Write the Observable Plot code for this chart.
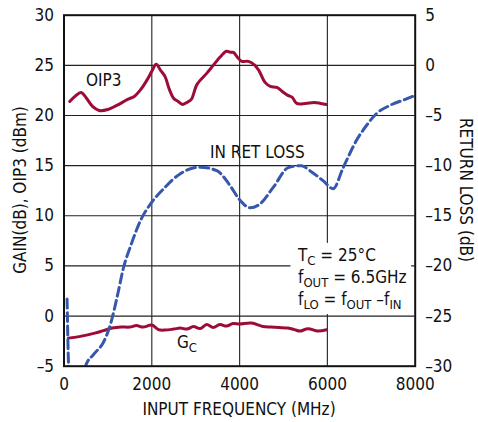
<!DOCTYPE html>
<html>
<head>
<meta charset="utf-8">
<script src="https://cdn.jsdelivr.net/npm/d3@7"></script>
<script src="https://cdn.jsdelivr.net/npm/@observablehq/plot@0.6"></script>
<style>
  html, body { margin: 0; padding: 0; background: #fff; }
</style>
</head>
<body>
<div id="chart"></div>
<script>
// ---- data ----
const xTicks = [0, 2000, 4000, 6000, 8000];
const leftTicks = [-5, 0, 5, 10, 15, 20, 25, 30];
const rightTicks = [-30, -25, -20, -15, -10, -5, 0, 5];

// OIP3 (dBm) vs input frequency (MHz)
const oip3Freq = [130, 250, 390, 500, 650, 800, 1000, 1200, 1450, 1600, 1750, 1900, 2000, 2100, 2200, 2300, 2400, 2500, 2600, 2700, 2800, 2900, 3030, 3250, 3400, 3550, 3700, 3800, 3860, 3950, 4050, 4200, 4350, 4450, 4580, 4700, 4850, 5000, 5100, 5200, 5300, 5500, 5700, 5850, 5980];
const oip3Val  = [21.4, 21.9, 22.3, 21.8, 20.9, 20.5, 20.6, 21.0, 21.6, 21.9, 22.6, 23.6, 24.4, 25.1, 24.5, 23.9, 22.6, 21.7, 21.4, 21.1, 21.3, 21.6, 23.1, 24.2, 25.0, 25.8, 26.4, 26.3, 26.3, 25.8, 25.4, 25.4, 25.0, 24.4, 23.3, 22.9, 22.8, 22.3, 22.0, 21.8, 21.2, 21.2, 21.3, 21.2, 21.1];

// Conversion gain Gc (dB)
const gcFreq = [100, 400, 700, 900, 1100, 1300, 1500, 1650, 1800, 2000, 2150, 2300, 2500, 2650, 2800, 2950, 3100, 3250, 3400, 3550, 3700, 3850, 4000, 4270, 4530, 4720, 4900, 5100, 5250, 5370, 5560, 5780, 5980];
const gcVal  = [-2.2, -2.0, -1.7, -1.45, -1.2, -1.1, -1.1, -0.95, -1.1, -0.9, -1.35, -1.4, -1.3, -1.2, -1.3, -1.05, -1.25, -0.85, -1.15, -0.85, -1.0, -0.75, -0.8, -0.7, -1.05, -1.1, -1.15, -1.2, -1.35, -1.5, -1.27, -1.5, -1.37];

// Input return loss (dB, right axis)
const rlFreq = [70, 110, 200, 350, 489, 680, 900, 1060, 1210, 1360, 1510, 1740, 2000, 2270, 2650, 3100, 3480, 3785, 4000, 4240, 4470, 4770, 5110, 5410, 5600, 5900, 6130, 6360, 6660, 6890, 7120, 7420, 7800, 8000];
const rlVal  = [-23.3, -30.5, -34, -33, -30, -28.8, -27.6, -25.8, -23.1, -20.1, -18.1, -15.5, -13.65, -12.3, -10.8, -10.15, -10.5, -12.0, -13.4, -14.2, -13.8, -12.15, -10.2, -10.0, -10.5, -11.5, -12.3, -10.2, -7.5, -6.0, -4.8, -4.0, -3.35, -3.0];

const rlOffset = 25; // right axis = left axis - 25

// ---- build tables ----
const oip3 = oip3Freq.map((f, i) => ({f, v: oip3Val[i]}));
const gc = gcFreq.map((f, i) => ({f, v: gcVal[i]}));
const rl = rlFreq.map((f, i) => ({f, v: rlVal[i]}));

const RED = "#9c0c36";
const BLUE = "#3757ad";
const FONT = "'Liberation Sans Narrow', 'Arial Narrow', 'DejaVu Sans Condensed', sans-serif";
const FS = 17, SUB = 13;
const fmt = d => d < 0 ? "\u2013" + Math.abs(d) : String(d);

const plot = Plot.plot({
  width: 478,
  height: 422,
  marginLeft: 63.5,
  marginRight: 63.3,
  marginTop: 14.7,
  marginBottom: 56.3,
  style: {fontFamily: FONT, fontSize: FS + "px", color: "#111", background: "#fff"},
  x: {domain: [0, 8000]},
  y: {domain: [-5, 30]},
  marks: [
    Plot.gridX([2000, 4000, 6000], {stroke: "#333", strokeOpacity: 1, strokeWidth: 1.2}),
    Plot.gridY([0, 5, 10, 15, 20, 25], {stroke: "#222", strokeOpacity: 1, strokeWidth: 1.2}),
    Plot.rect([0], {x1: 5170, x2: 7920, y1: 0.15, y2: 7.25, fill: "#fff"}),
    Plot.line(oip3, {x: "f", y: "v", stroke: RED, strokeWidth: 3, curve: "catmull-rom"}),
    Plot.line(gc, {x: "f", y: "v", stroke: RED, strokeWidth: 3, curve: "catmull-rom"}),
    Plot.line(rl, {x: "f", y: d => d.v + rlOffset, stroke: BLUE, strokeWidth: 3, strokeDasharray: "9,4.5", curve: "monotone-x", clip: true}),
    Plot.frame({stroke: "#111", strokeWidth: 2}),
    Plot.axisX(xTicks, {tickSize: 0, tickPadding: 12, tickFormat: d => String(d), label: null, fontSize: FS}),
    Plot.axisY(leftTicks, {anchor: "left", tickSize: 0, tickPadding: 10, tickFormat: fmt, label: null, fontSize: FS}),
    Plot.axisY(rightTicks.map(d => d + rlOffset), {anchor: "right", tickSize: 0, tickPadding: 10, tickFormat: d => fmt(d - rlOffset), label: null, fontSize: FS})
  ]
});

// ---- annotations (text) ----
const svg = d3.select(plot);
const g = svg.append("g")
  .attr("font-family", FONT).attr("font-size", FS).attr("fill", "#111")
  .attr("text-anchor", "start");

g.append("text").attr("x", 239).attr("y", 415).attr("text-anchor", "middle").text("INPUT FREQUENCY (MHz)");
g.append("text").attr("transform", "translate(25.5,190) rotate(-90)").attr("text-anchor", "middle").text("GAIN(dB), OIP3 (dBm)");
g.append("text").attr("transform", "translate(460,190) rotate(90)").attr("text-anchor", "middle").text("RETURN LOSS (dB)");

g.append("text").attr("x", 86).attr("y", 86).text("OIP3");
g.append("text").attr("x", 210).attr("y", 158).text("IN RET LOSS");

const gcT = g.append("text").attr("x", 177).attr("y", 348);
gcT.append("tspan").text("G");
gcT.append("tspan").attr("font-size", SUB).attr("dy", 4).text("C");

function sub(sel, base, s) {
  sel.append("tspan").text(base);
  sel.append("tspan").attr("font-size", SUB).attr("dy", 4).text(s);
}
const l1 = g.append("text").attr("x", 298).attr("y", 261);
sub(l1, "T", "C"); l1.append("tspan").attr("dy", -4).text(" = 25°C");
const l2 = g.append("text").attr("x", 298).attr("y", 283);
sub(l2, "f", "OUT"); l2.append("tspan").attr("dy", -4).text(" = 6.5GHz");
const l3 = g.append("text").attr("x", 298).attr("y", 305);
sub(l3, "f", "LO"); l3.append("tspan").attr("dy", -4).text(" = f");
l3.append("tspan").attr("font-size", SUB).attr("dy", 4).text("OUT");
l3.append("tspan").attr("dy", -4).text(" \u2013f");
l3.append("tspan").attr("font-size", SUB).attr("dy", 4).text("IN");

document.getElementById("chart").appendChild(plot);
</script>
</body>
</html>
